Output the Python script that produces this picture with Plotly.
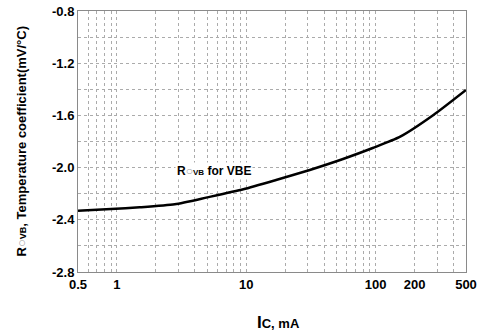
import numpy as np
import plotly.graph_objects as go

# Data
ic_ma = [0.5, 0.9, 1.5, 2.8, 5, 9.5, 17, 31, 56, 95, 155, 280, 500]
temp_coef = [-2.330, -2.317, -2.304, -2.281, -2.228, -2.166, -2.095, -2.018, -1.934, -1.850, -1.763, -1.597, -1.405]

x_tickvals = [0.5, 1, 10, 100, 200, 500]
x_ticktext = ["0.5", "1", "10", "100", "200", "500"]
y_tickvals = [-0.8, -1.2, -1.6, -2.0, -2.4, -2.8]
y_ticktext = ["-0.8", "-1.2", "-1.6", "-2.0", "-2.4", "-2.8"]

FONT = "Arial, 'Liberation Sans', sans-serif"
GRID = "#ababab"
TICKFONT = dict(family=FONT, size=13, color="black", weight="bold")
FAINT = "#a0a0a0"

fig = go.Figure()
fig.add_trace(go.Scatter(
    x=ic_ma, y=temp_coef, mode="lines",
    line=dict(color="black", width=2.5, shape="spline", smoothing=0.6),
    showlegend=False, hoverinfo="skip",
))

# in-plot label
fig.add_annotation(
    x=np.log10(5.6), y=-2.026, xref="x", yref="y",
    text=f"<b>R<span style='color:{FAINT}'>○</span><span style='font-size:8px'>VB</span> for VBE</b>",
    showarrow=False, font=dict(family=FONT, size=12, color="black"),
    bgcolor="white",
)

# axis titles
fig.add_annotation(
    x=0, y=0.5, xref="paper", yref="paper", xanchor="center", yanchor="middle",
    xshift=-57, textangle=-90, showarrow=False,
    text=f"<b>R<span style='color:{FAINT}'>○</span><span style='font-size:9px'>VB</span>, Temperature coefficient(mV/°C)</b>",
    font=dict(family=FONT, size=13, color="black"),
)
fig.add_annotation(
    x=0.5, y=0, xref="paper", yref="paper", xanchor="center", yanchor="middle",
    xshift=6, yshift=-50, showarrow=False,
    text="<b><span style='font-size:17px'>I</span>C, mA</b>",
    font=dict(family=FONT, size=13, color="black"),
)

fig.update_layout(
    width=487, height=333,
    margin=dict(l=78, r=21, t=11, b=61),
    paper_bgcolor="white", plot_bgcolor="white",
    font=dict(family=FONT, color="black"),
    xaxis=dict(
        type="log", range=[np.log10(0.5), np.log10(500)],
        tickmode="array", tickvals=x_tickvals, ticktext=x_ticktext,
        tickfont=TICKFONT, automargin=False, ticklabeloverflow="allow",
        showgrid=True, gridcolor=GRID, gridwidth=1, griddash="dot",
        minor=dict(dtick="D1", showgrid=True, gridcolor=GRID, gridwidth=1, griddash="dot"),
        showline=True, linecolor="#8a8a8a", linewidth=1, mirror=True,
        ticks="", zeroline=False,
    ),
    yaxis=dict(
        range=[-2.8, -0.8], automargin=False, ticklabeloverflow="allow",
        tickmode="array", tickvals=y_tickvals, ticktext=y_ticktext,
        tickfont=TICKFONT,
        showgrid=True, gridcolor=GRID, gridwidth=1, griddash="dot",
        minor=dict(dtick=0.2, tick0=-0.8, showgrid=True, gridcolor=GRID, gridwidth=1, griddash="dot"),
        showline=True, linecolor="#8a8a8a", linewidth=1, mirror=True,
        ticks="", zeroline=False,
    ),
)

fig.write_html(
    "out.html",
    config={"displayModeBar": False},
    post_script="document.body.style.margin='0px';",
)
